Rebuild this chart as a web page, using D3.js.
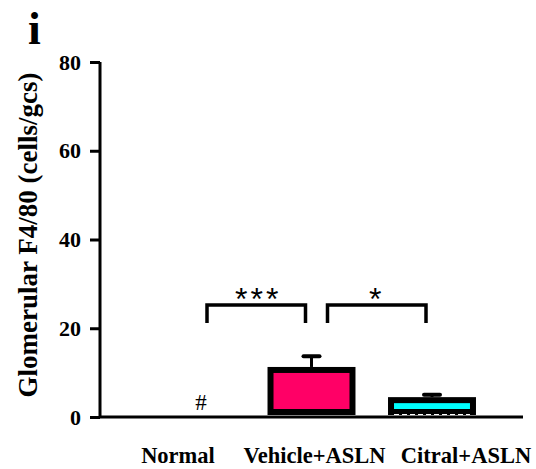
<!DOCTYPE html>
<html>
<head>
<meta charset="utf-8">
<script src="https://cdn.jsdelivr.net/npm/d3@7"></script>
<style>
  body { margin: 0; background: #fff; }
  text { font-family: "Liberation Serif", "Times New Roman", serif; }
</style>
</head>
<body>
<div id="chart"></div>
<script>
const groups = ["Normal", "Vehicle+ASLN", "Citral+ASLN"];
const means = [0, 10.6, 3.8];
const errors = [0, 3.1, 1.2];
const fills = ["#ffffff", "#ff0066", "#00ffff"];
const yTicks = [0, 20, 40, 60, 80];
// significance brackets: [from, to, label]
const brackets = [[0, 1, "***"], [1, 2, "*"]];

const width = 536;
const height = 469;

const svg = d3.select("#chart")
  .append("svg")
  .attr("width", width)
  .attr("height", height);

const y = d3.scaleLinear().domain([0, 80]).range([417, 62]);
const x = d3.scaleBand().domain(groups).range([130.75, 492.25])
  .paddingInner(0.27).paddingOuter(0.135);
const cx = d => x(d) + x.bandwidth() / 2;

// y axis
const yAxis = svg.append("g")
  .attr("transform", "translate(100,0)")
  .call(d3.axisLeft(y).tickValues(yTicks).tickSize(10).tickPadding(9));
yAxis.select(".domain").attr("stroke-width", 3).attr("d", `M0,${y(80)}V${y(0)}`);
yAxis.selectAll(".tick line").attr("stroke-width", 3);
yAxis.selectAll(".tick text")
  .style("font-size", "22px")
  .style("font-weight", "bold")
  .attr("fill", "#000");

// x axis line
svg.append("line")
  .attr("x1", 100).attr("x2", 523)
  .attr("y1", y(0)).attr("y2", y(0))
  .attr("stroke", "#000").attr("stroke-width", 3);

// bars (thick black outline, bottom edge sits just above the axis)
svg.selectAll(".bar")
  .data(groups.slice(1))
  .enter().append("rect")
  .attr("class", "bar")
  .attr("x", d => x(d) + 3)
  .attr("width", x.bandwidth() - 6)
  .attr("y", d => y(means[groups.indexOf(d)]))
  .attr("height", d => y(0) - y(means[groups.indexOf(d)]) - 5)
  .attr("fill", d => fills[groups.indexOf(d)])
  .attr("stroke", "#000")
  .attr("stroke-width", 6);

// dashed white line along the bottom of the short bar
svg.append("line")
  .attr("x1", x("Citral+ASLN") + 6)
  .attr("x2", x("Citral+ASLN") + x.bandwidth() - 6)
  .attr("y1", y(0) - 2.5).attr("y2", y(0) - 2.5)
  .attr("stroke", "#fff").attr("stroke-width", 1.2)
  .attr("stroke-dasharray", "5,3");

// error bars
groups.forEach((g, i) => {
  if (!errors[i]) return;
  svg.append("line")
    .attr("x1", cx(g)).attr("x2", cx(g))
    .attr("y1", y(means[i]) - 3).attr("y2", y(means[i] + errors[i]))
    .attr("stroke", "#000").attr("stroke-width", 3);
  svg.append("line")
    .attr("x1", cx(g) - 8).attr("x2", cx(g) + 8)
    .attr("y1", y(means[i] + errors[i])).attr("y2", y(means[i] + errors[i]))
    .attr("stroke", "#000").attr("stroke-width", 4)
    .attr("stroke-linecap", "round");
});

// "#" over Normal
svg.append("text")
  .attr("x", cx("Normal") + 10)
  .attr("y", 410)
  .attr("text-anchor", "middle")
  .style("font-size", "23px")
  .text("#");

// brackets
const brTop = 305, brBottom = 323;
brackets.forEach(([a, b, label]) => {
  const x1 = cx(groups[a]) + 16, x2 = cx(groups[b]) - 6;
  svg.append("path")
    .attr("d", `M${x1},${brBottom}V${brTop}H${x2}V${brBottom}`)
    .attr("fill", "none").attr("stroke", "#000").attr("stroke-width", 3.5);
  svg.append("text")
    .attr("x", (x1 + x2) / 2 + (label.length > 1 ? 2 : 0))
    .attr("y", 310)
    .attr("text-anchor", "middle")
    .style("font-family", "'Liberation Sans', Arial, sans-serif")
    .style("font-size", "32px")
    .style("letter-spacing", "3px")
    .text(label);
});

// x labels
const labelShift = [-13, 3, 34];
svg.selectAll(".xlab")
  .data(groups)
  .enter().append("text")
  .attr("class", "xlab")
  .attr("x", (d, i) => cx(d) + labelShift[i])
  .attr("y", 463)
  .attr("text-anchor", "middle")
  .style("font-size", "22.5px")
  .style("font-weight", "bold")
  .text(d => d);

// y title
svg.append("text")
  .attr("transform", "translate(37,235) rotate(-90)")
  .attr("text-anchor", "middle")
  .style("font-size", "27px")
  .style("font-weight", "bold")
  .text("Glomerular F4/80 (cells/gcs)");

// panel letter
svg.append("text")
  .attr("x", 28).attr("y", 44)
  .style("font-size", "46px")
  .style("font-weight", "bold")
  .text("i");
</script>
</body>
</html>
